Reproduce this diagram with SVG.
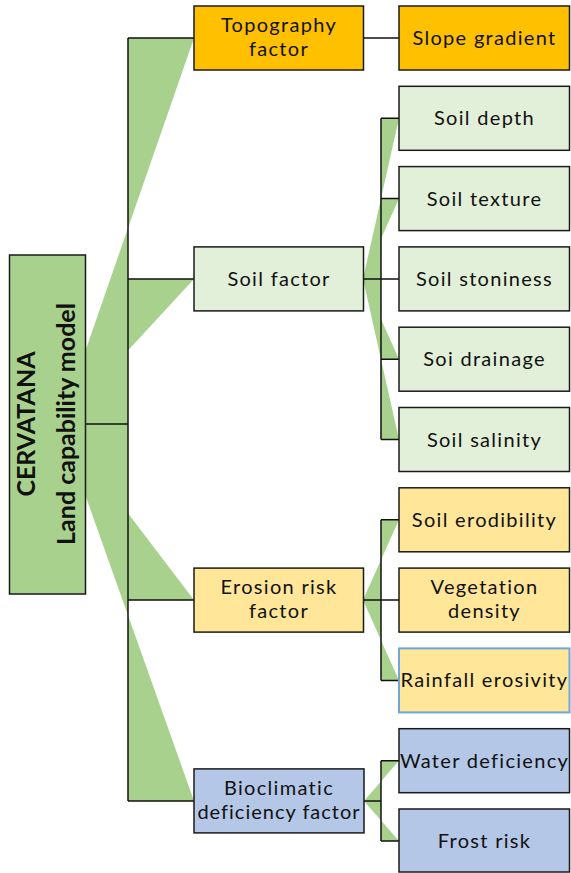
<svg xmlns="http://www.w3.org/2000/svg" width="571" height="873" viewBox="0 0 571 873">
<style>
  .box { stroke: #1a1a1a; stroke-width: 1.5; }
  .root { fill: #A9D18E; }
  .topo { fill: #FFC000; }
  .soil { fill: #E2F0D9; }
  .ero { fill: #FFE699; }
  .bio { fill: #B4C7E7; }
  .wedge { fill: #A9D18E; stroke: none; }
  .ln { fill: none; stroke: #111; stroke-width: 1.5; }
  text { font-family: "Lato", "Open Sans", sans-serif; font-size: 20px; fill: #111; text-anchor: middle; letter-spacing: 1.3px; }
  .rt { font-size: 25px; font-weight: bold; letter-spacing: 0; }
</style>
<rect width="571" height="873" fill="#ffffff"/>
<g id="connectors">
  <g id="wedges">
    <polygon class="wedge" points="128,38 194,38 60,424 128,424"/>
    <polygon class="wedge" points="128,279 194,279 60,424 128,424"/>
    <polygon class="wedge" points="128,600 194,600 60,424 128,424"/>
    <polygon class="wedge" points="128,801 194,801 60,424 128,424"/>
    <polygon class="wedge" points="381,118.3 399,118.3 363,279 381,279"/>
    <polygon class="wedge" points="381,198.6 399,198.6 363,279 381,279"/>
    <polygon class="wedge" points="381,359.2 399,359.2 363,279 381,279"/>
    <polygon class="wedge" points="381,439.5 399,439.5 363,279 381,279"/>
    <polygon class="wedge" points="381,519.8 399,519.8 363,600 381,600"/>
    <polygon class="wedge" points="381,680.4 399,680.4 363,600 381,600"/>
    <polygon class="wedge" points="381,760.7 399,760.7 364,801 381,801"/>
    <polygon class="wedge" points="381,841 399,841 364,801 381,801"/>
  </g>
  <path class="ln" d="M86,424 H128 M128,38 V801 M128,38 H194 M128,279 H194 M128,600 H194 M128,801 H194"/>
  <path class="ln" d="M363,38 H399"/>
  <path class="ln" d="M363,279 H381 M381,118.3 V439.5 M381,118.3 H399 M381,198.6 H399 M381,279 H399 M381,359.2 H399 M381,439.5 H399"/>
  <path class="ln" d="M363,600 H381 M381,519.8 V680.4 M381,519.8 H399 M381,600 H399 M381,680.4 H399"/>
  <path class="ln" d="M364,801 H381 M381,760.7 V841 M381,760.7 H399 M381,841 H399"/>
</g>
<g id="root">
  <rect class="box root" x="9.5" y="255" width="76" height="339"/>
  <text class="rt" transform="translate(35,424) rotate(-90)">CERVATANA</text>
  <text class="rt" transform="translate(75,424) rotate(-90)">Land capability model</text>
</g>
<g id="topography">
  <rect class="box topo" x="194" y="6" width="169.5" height="64"/>
  <text x="279" y="32">Topography</text>
  <text x="279" y="56">factor</text>
</g>
<g id="slope">
  <rect class="box topo" x="399" y="6" width="170.5" height="64"/>
  <text x="484.5" y="45">Slope gradient</text>
</g>
<g id="soilfactor">
  <rect class="box soil" x="194" y="246.9" width="169.5" height="64"/>
  <text x="279" y="286">Soil factor</text>
</g>
<g id="soildepth">
  <rect class="box soil" x="399" y="86.3" width="170.5" height="64"/>
  <text x="484.5" y="125.3">Soil depth</text>
</g>
<g id="soiltexture">
  <rect class="box soil" x="399" y="166.6" width="170.5" height="64"/>
  <text x="484.5" y="205.6">Soil texture</text>
</g>
<g id="soilstoniness">
  <rect class="box soil" x="399" y="246.9" width="170.5" height="64"/>
  <text x="484.5" y="285.9">Soil stoniness</text>
</g>
<g id="soildrainage">
  <rect class="box soil" x="399" y="327.2" width="170.5" height="64"/>
  <text x="484.5" y="366.2">Soi drainage</text>
</g>
<g id="soilsalinity">
  <rect class="box soil" x="399" y="407.5" width="170.5" height="64"/>
  <text x="484.5" y="446.5">Soil salinity</text>
</g>
<g id="erosion">
  <rect class="box ero" x="194" y="568.1" width="169.5" height="64"/>
  <text x="279" y="594">Erosion risk</text>
  <text x="279" y="618">factor</text>
</g>
<g id="erodibility">
  <rect class="box ero" x="399" y="487.8" width="170.5" height="64"/>
  <text x="484.5" y="526.8">Soil erodibility</text>
</g>
<g id="vegetation">
  <rect class="box ero" x="399" y="568.1" width="170.5" height="64"/>
  <text x="484.5" y="594">Vegetation</text>
  <text x="484.5" y="618">density</text>
</g>
<g id="rainfall">
  <rect x="399" y="648.4" width="170.5" height="64" fill="#FFE699" stroke="#6fa6dc" stroke-width="2"/>
  <text x="484.5" y="687.4">Rainfall erosivity</text>
</g>
<g id="bioclimatic">
  <rect class="box bio" x="194" y="768.9" width="170" height="64"/>
  <text x="279" y="795">Bioclimatic</text>
  <text x="279" y="819" style="letter-spacing:1px">deficiency factor</text>
</g>
<g id="water">
  <rect class="box bio" x="399" y="728.7" width="170.5" height="64"/>
  <text x="484.5" y="767.7">Water deficiency</text>
</g>
<g id="frost">
  <rect class="box bio" x="399" y="809" width="170.5" height="63"/>
  <text x="484.5" y="848">Frost risk</text>
</g>
</svg>
